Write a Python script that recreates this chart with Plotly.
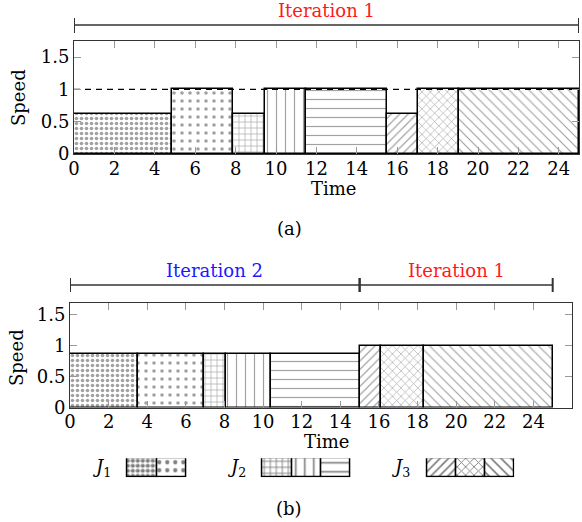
import plotly.graph_objects as go

# ---------------- data ----------------
# (a) schedule
a_starts = [0, 4.85, 7.85, 9.45, 11.5, 15.5, 17.05, 19.05]
a_ends = [4.85, 7.85, 9.45, 11.5, 15.5, 17.05, 19.05, 25]
a_speeds = [0.62, 1, 0.62, 1, 1, 0.62, 1, 1]
a_fills = ["dots_dense", "dots", "grid", "vlines", "hlines", "ne", "cross", "nw"]

# (b) schedule
b_starts = [0, 3.5, 6.95, 8.1, 10.4, 15, 16.1, 18.35]
b_ends = [3.5, 6.95, 8.1, 10.4, 15, 16.1, 18.35, 25]
b_speeds = [0.87, 0.87, 0.87, 0.87, 0.87, 1, 1, 1]
b_fills = ["dots_dense", "dots", "grid", "vlines", "hlines", "ne", "cross", "nw"]

a_iterations = [("Iteration 1", 0, 25, "#ff1a1a")]
b_iterations = [("Iteration 2", 0, 15, "#1a1aff"), ("Iteration 1", 15, 25, "#ff1a1a")]

legend_jobs = ["J1", "J2", "J3"]
legend_fills = [["dots_dense", "dots"], ["grid", "vlines", "hlines"], ["ne", "cross", "nw"]]

a_xticks = list(range(0, 25, 2))
b_xticks = list(range(0, 27, 2))
yticks = [0, 0.5, 1, 1.5]
ytick_text = ["0", "0.5", "1", "1.5"]

# ---------------- styles ----------------
PAT = {
    "dots_dense": dict(shape=".", size=5, solidity=0.4),
    "dots": dict(shape=".", size=8, solidity=0.16),
    "grid": dict(shape="+", size=6, solidity=0.2),
    "vlines": dict(shape="|", size=9, solidity=0.13),
    "hlines": dict(shape="-", size=9, solidity=0.13),
    "ne": dict(shape="/", size=6, solidity=0.2),
    "cross": dict(shape="x", size=6, solidity=0.2),
    "nw": dict(shape="\\", size=7, solidity=0.17),
}
FONT = "DejaVu Serif"
FS = 18
W, H = 582, 522


def yp(py):
    return 1 - py / H


def xp(px):
    return px / W


def bar_trace(starts, ends, speeds, fills, xa, ya, fg="#444"):
    return go.Bar(
        x=[(s + e) / 2 for s, e in zip(starts, ends)],
        y=speeds,
        width=[e - s for s, e in zip(starts, ends)],
        base=0,
        xaxis=xa, yaxis=ya,
        marker=dict(
            color="white",
            line=dict(color="black", width=1.5),
            pattern=dict(
                shape=[PAT[f]["shape"] for f in fills],
                size=[PAT[f]["size"] for f in fills],
                solidity=[PAT[f]["solidity"] for f in fills],
                fgcolor=fg,
                bgcolor="white",
                fillmode="overlay",
            ),
        ),
        showlegend=False,
        hoverinfo="skip",
    )


fig = go.Figure()

# dashed reference line at speed 1 in (a)
fig.add_trace(go.Scatter(x=[0, 25], y=[1, 1], mode="lines", xaxis="x", yaxis="y",
                         line=dict(color="black", width=1.2, dash="6px,5px"),
                         showlegend=False, hoverinfo="skip"))
fig.add_trace(bar_trace(a_starts, a_ends, a_speeds, a_fills, "x", "y"))
fig.add_trace(bar_trace(b_starts, b_ends, b_speeds, b_fills, "x2", "y2"))

# legend swatches on a helper axis (cell units)
GAP = 2.64
LABEL_OFF = 0.9
leg_x, leg_f, group_starts = [], [], []
pos = 0.0
for fills in legend_fills:
    group_starts.append(pos)
    for f in fills:
        leg_x.append(pos + 0.5)
        leg_f.append(f)
        pos += 1
    pos += GAP
pos -= GAP
fig.add_trace(go.Bar(
    x=leg_x, y=[1] * len(leg_x), width=[1] * len(leg_x), base=0,
    xaxis="x3", yaxis="y3",
    marker=dict(color="white", line=dict(color="black", width=1.5),
                pattern=dict(shape=[PAT[f]["shape"] for f in leg_f],
                             size=[PAT[f]["size"] for f in leg_f],
                             solidity=[min(1, PAT[f]["solidity"] * 1.4) for f in leg_f],
                             fgcolor="black", bgcolor="white", fillmode="overlay")),
    showlegend=False, hoverinfo="skip"))

LEG_L, LEG_R = 127.7, 514.3
cell_px = (LEG_R - LEG_L) / pos
x3_lo = -1.8

axis_common = dict(
    showline=True, linecolor="#333", linewidth=1, mirror="ticks",
    ticks="inside", ticklen=7, tickcolor="#999", tickwidth=1,
    showgrid=False, zeroline=False, automargin=False,
    tickfont=dict(family=FONT, size=FS, color="black"),
)

fig.update_layout(
    width=W, height=H,
    margin=dict(l=0, r=0, t=0, b=0, pad=0),
    paper_bgcolor="white", plot_bgcolor="white",
    barmode="overlay", bargap=0,
    font=dict(family=FONT, size=FS, color="black"),
    xaxis=dict(domain=[xp(74), xp(579)], range=[0, 25], anchor="y",
               tickvals=a_xticks, ticklabelstandoff=-2, **axis_common),
    yaxis=dict(domain=[yp(154), yp(41)], range=[0, 1.75], anchor="x",
               tickvals=yticks, ticktext=ytick_text, **axis_common),
    xaxis2=dict(domain=[xp(70), xp(572)], range=[0, 26], anchor="y2",
                tickvals=b_xticks, ticklabelstandoff=-2, **axis_common),
    yaxis2=dict(domain=[yp(407.5), yp(303)], range=[0, 1.69], anchor="x2",
                tickvals=yticks, ticktext=ytick_text, **axis_common),
    xaxis3=dict(domain=[xp(LEG_L + x3_lo * cell_px), xp(LEG_R)], range=[x3_lo, pos],
                anchor="y3", visible=False, automargin=False),
    yaxis3=dict(domain=[yp(477.3), yp(458.3)], range=[0, 1], anchor="x3",
                visible=False, automargin=False),
)

shapes = []
annotations = []


def ann(**kw):
    kw.setdefault("showarrow", False)
    kw.setdefault("xanchor", "center")
    kw.setdefault("yanchor", "middle")
    annotations.append(kw)


def add_brackets(iters, xref, y_line, y_top, y_bot, y_text):
    for label, s, e, col in iters:
        shapes.append(dict(type="line", xref=xref, yref="paper", x0=s, x1=e,
                           y0=yp(y_line), y1=yp(y_line), line=dict(color="#333", width=1.5)))
        for xx in (s, e):
            shapes.append(dict(type="line", xref=xref, yref="paper", x0=xx, x1=xx,
                               y0=yp(y_bot), y1=yp(y_top), line=dict(color="#333", width=2)))
        ann(text=label, xref=xref, yref="paper", x=(s + e) / 2, y=yp(y_text),
            font=dict(family=FONT, size=FS, color=col))


add_brackets(a_iterations, "x", 25, 18, 33, 10)
add_brackets(b_iterations, "x2", 285, 278, 292, 270)

for txt, x, y, rot in [("Speed", 18, 98, -90), ("Speed", 16, 358, -90),
                       ("Time", 333, 189, 0), ("Time", 326, 441, 0),
                       ("(a)", 289, 229, 0), ("(b)", 289, 508, 0)]:
    ann(text=txt, xref="paper", yref="paper", x=xp(x), y=yp(y), textangle=rot,
        font=dict(family=FONT, size=FS, color="black"))

for job, gs in zip(legend_jobs, group_starts):
    ann(text=f"<i>{job[0]}</i><sub>{job[1:]}</sub>", xref="x3", yref="paper",
        x=gs - LABEL_OFF, y=yp(468), font=dict(family=FONT, size=FS, color="black"))

fig.update_layout(shapes=shapes, annotations=annotations)

fig.write_html("out.html")
